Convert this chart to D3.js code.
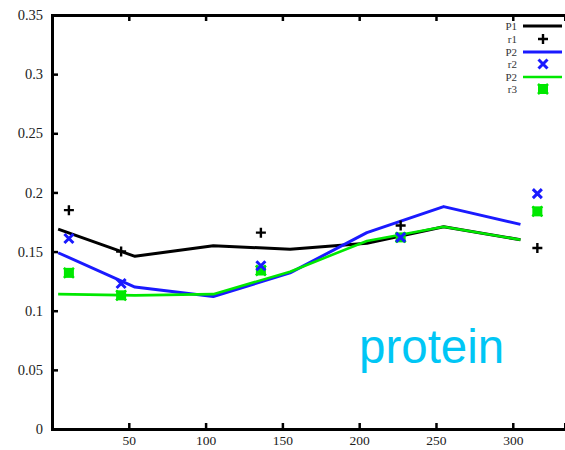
<!DOCTYPE html>
<html>
<head>
<meta charset="utf-8">
<script src="https://cdn.jsdelivr.net/npm/d3@7"></script>
<style>
  body { margin: 0; background: #fff; }
  svg { display: block; }
</style>
</head>
<body>
<script>
// line series (x positions shared)
const lineX = [4, 54, 105, 155, 205, 255, 305];
const P1 = [0.169, 0.146, 0.155, 0.152, 0.157, 0.171, 0.160];
const P2 = [0.149, 0.120, 0.112, 0.132, 0.166, 0.188, 0.173];
const P3 = [0.114, 0.113, 0.114, 0.133, 0.159, 0.171, 0.160];

// scatter series
const ptX = [11, 45, 136, 227, 316];
const r1 = [0.185, 0.150, 0.166, 0.172, 0.153];
const r2 = [0.161, 0.123, 0.138, 0.162, 0.199];
const r3 = [0.132, 0.113, 0.134, 0.162, 0.184];

const xTicks = [50, 100, 150, 200, 250, 300];
const yTicks = [0, 0.05, 0.1, 0.15, 0.2, 0.25, 0.3, 0.35];
const legendNames = ["P1", "r1", "P2", "r2", "P2", "r3"];

const width = 565, height = 450;
const svg = d3.select("body").append("svg")
    .attr("width", width)
    .attr("height", height);

const x = d3.scaleLinear().domain([0, 334]).range([52, 565]);
const y = d3.scaleLinear().domain([0, 0.35]).range([429, 15]);

const serif = "'Liberation Serif', 'DejaVu Serif', serif";

// axes (inward ticks)
const gx = svg.append("g").attr("transform", `translate(0,${y(0)})`)
    .call(d3.axisBottom(x).tickValues(xTicks).tickSize(-6).tickPadding(6).tickFormat(d3.format("d")));
const gxt = svg.append("g").attr("transform", `translate(0,${y(0.35)})`)
    .call(d3.axisTop(x).tickValues(xTicks).tickSize(-6).tickFormat(""));
const gy = svg.append("g").attr("transform", `translate(${x(0)},0)`)
    .call(d3.axisLeft(y).tickValues(yTicks).tickSize(-6).tickPadding(9).tickFormat(d => d === 0 ? "0" : String(+d.toFixed(2))));

[gx, gxt, gy].forEach(g => {
    g.select(".domain").attr("stroke-width", 3).attr("stroke", "#000");
    g.selectAll(".tick line").attr("stroke-width", 2.5).attr("stroke", "#000");
    g.selectAll("text").attr("font-family", serif).attr("font-size", 14.5).attr("fill", "#222");
});
gx.selectAll("text").attr("font-size", 13.5);
gy.selectAll(".tick").filter(d => d === 0 || d === 0.35).select("line").remove();

// lines
const line = d3.line().x((d, i) => x(lineX[i])).y(d => y(d));
const series = [
    {vals: P1, color: "#000", w: 3},
    {vals: P2, color: "#1a1aff", w: 3},
    {vals: P3, color: "#00e800", w: 2.6}
];
series.forEach(s => {
    svg.append("path").datum(s.vals)
        .attr("d", line)
        .attr("fill", "none")
        .attr("stroke", s.color)
        .attr("stroke-width", s.w)
        .attr("stroke-linejoin", "round");
});

// markers
function plus(g, cx, cy) {
    g.append("path").attr("d", `M${cx-5},${cy}H${cx+5}M${cx},${cy-5}V${cy+5}`)
        .attr("stroke", "#000").attr("stroke-width", 2.4).attr("fill", "none");
}
function cross(g, cx, cy) {
    g.append("path").attr("d", `M${cx-4.5},${cy-4.5}L${cx+4.5},${cy+4.5}M${cx-4.5},${cy+4.5}L${cx+4.5},${cy-4.5}`)
        .attr("stroke", "#1a1aff").attr("stroke-width", 3).attr("fill", "none");
}
function boxcross(g, cx, cy) {
    g.append("rect").attr("x", cx - 5).attr("y", cy - 5).attr("width", 10).attr("height", 10)
        .attr("fill", "#00e800");
    g.append("path").attr("d", `M${cx-5},${cy-5}L${cx+5},${cy+5}M${cx-5},${cy+5}L${cx+5},${cy-5}`)
        .attr("stroke", "#00e800").attr("stroke-width", 2.5);
}
const mg = svg.append("g");
r3.forEach((v, i) => boxcross(mg, x(ptX[i]), y(v)));
r2.forEach((v, i) => cross(mg, x(ptX[i]), y(v)));
r1.forEach((v, i) => plus(mg, x(ptX[i]), y(v)));

// legend
const legY = [26, 39, 52, 64, 77, 89];
const lg = svg.append("g");
legendNames.forEach((n, i) => {
    lg.append("text").attr("x", 517).attr("y", legY[i] + 4)
        .attr("text-anchor", "end")
        .attr("font-family", serif).attr("font-size", 11)
        .attr("fill", "#333")
        .text(n);
});
lg.append("line").attr("x1", 523).attr("x2", 562).attr("y1", legY[0]).attr("y2", legY[0])
    .attr("stroke", "#000").attr("stroke-width", 3);
plus(lg, 543, legY[1]);
lg.append("line").attr("x1", 523).attr("x2", 562).attr("y1", legY[2]).attr("y2", legY[2])
    .attr("stroke", "#1a1aff").attr("stroke-width", 3);
cross(lg, 543, legY[3]);
lg.append("line").attr("x1", 523).attr("x2", 562).attr("y1", legY[4]).attr("y2", legY[4])
    .attr("stroke", "#00e800").attr("stroke-width", 2.6);
boxcross(lg, 543, legY[5]);

// annotation
svg.append("text")
    .attr("x", 359).attr("y", 363)
    .attr("font-family", "'Liberation Sans', Arial, sans-serif")
    .attr("font-size", 47.5)
    .attr("fill", "#00c6f5")
    .text("protein");
</script>
</body>
</html>
